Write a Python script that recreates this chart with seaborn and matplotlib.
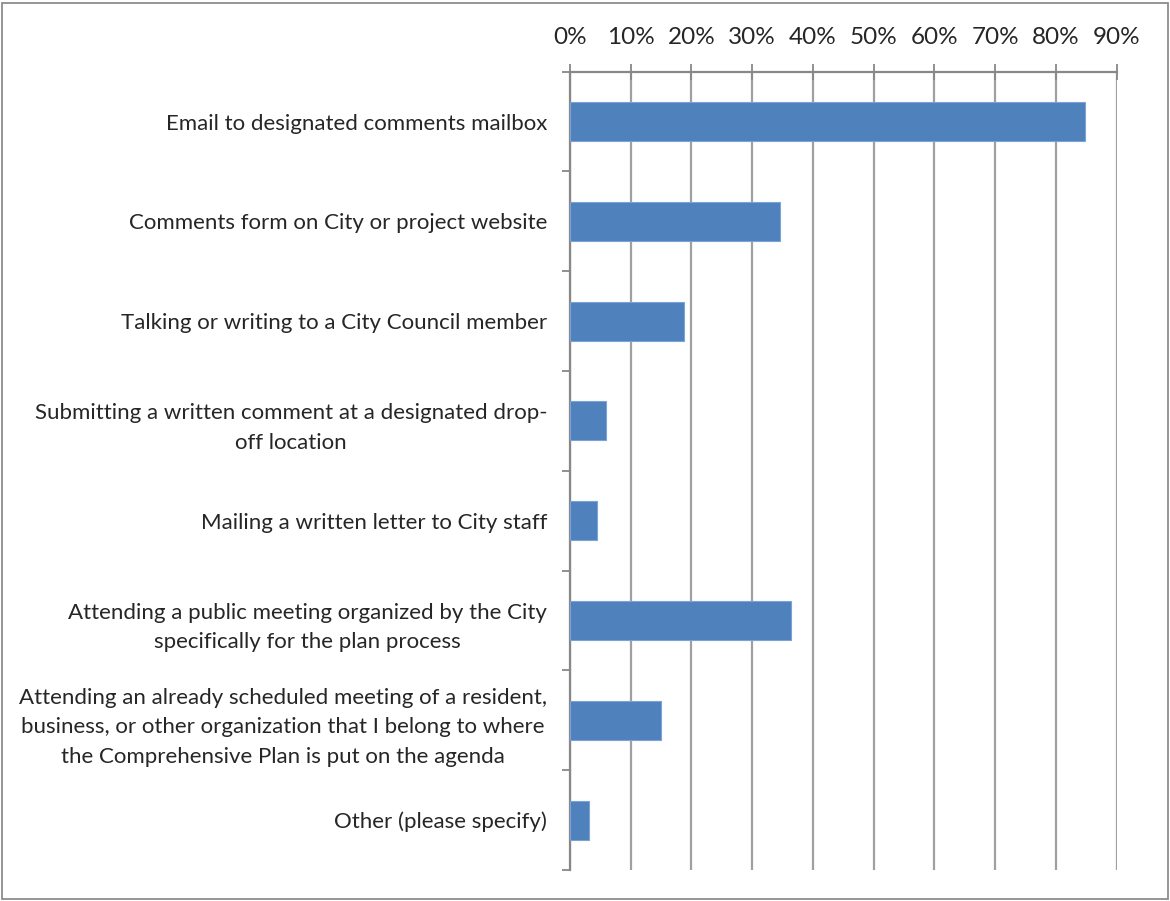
import numpy as np
import pandas as pd
import matplotlib
matplotlib.use("Agg")
import matplotlib.pyplot as plt
import seaborn as sns
from matplotlib.ticker import FixedLocator, PercentFormatter

categories = [
    "Email to designated comments mailbox",
    "Comments form on City or project website",
    "Talking or writing to a City Council member",
    "Submitting a written comment at a designated drop-\noff location",
    "Mailing a written letter to City staff",
    "Attending a public meeting organized by the City\nspecifically for the plan process",
    "Attending an already scheduled meeting of a resident,\nbusiness, or other organization that I belong to where\nthe Comprehensive Plan is put on the agenda",
    "Other (please specify)",
]
percent = [84.8, 34.6, 18.8, 5.9, 4.5, 36.3, 15.0, 3.2]
x_ticks = [0, 10, 20, 30, 40, 50, 60, 70, 80, 90]

df = pd.DataFrame({"method": categories, "pct": percent})

sns.set_style("white")
plt.rcParams["font.family"] = ["Lato", "DejaVu Sans"]

fig = plt.figure(figsize=(11.7, 9.01), dpi=100)
ax = fig.add_axes([570 / 1170, 1 - 870 / 901, (1116.7 - 570) / 1170, (870 - 71.7) / 901])

sns.barplot(data=df, x="pct", y="method", orient="h", color="#4F81BD",
            saturation=1, width=0.39, edgecolor="#7BA3D6", linewidth=0.8, ax=ax, zorder=3)

ax.set_xlim(0, 90)
ax.set_ylim(len(categories) - 0.5, -0.5)
ax.xaxis.tick_top()
ax.set_xticks(x_ticks)
ax.xaxis.set_major_formatter(PercentFormatter(decimals=0))
ax.tick_params(axis="x", direction="inout", length=12, width=1.3, color="#888888",
               labelsize=17.5, pad=11)
ax.grid(axis="x", color="#A0A0A0", linewidth=1.6, zorder=0)
ax.set_axisbelow(True)

# category labels, boundary ticks like the original
ax.tick_params(axis="y", which="major", left=False, length=0, labelsize=16, pad=16.5)
ax.yaxis.set_minor_locator(FixedLocator(np.arange(-0.5, len(categories), 1)))
ax.tick_params(axis="y", which="minor", left=True, direction="out", length=6,
               width=1.3, color="#888888")
for lbl in ax.get_yticklabels():
    lbl.set_multialignment("center")
    lbl.set_linespacing(1.6)

ax.set_xlabel("")
ax.set_ylabel("")
for side in ["right", "bottom"]:
    ax.spines[side].set_visible(False)
ax.spines["left"].set_color("#888888")
ax.spines["left"].set_linewidth(1.6)
ax.spines["top"].set_color("#888888")
ax.spines["top"].set_linewidth(1.6)

# outer chart border
fig.patches.append(plt.Rectangle((2 / 1170, 2 / 901), 1166 / 1170, 896 / 901,
                                 transform=fig.transFigure, fill=False,
                                 edgecolor="#8C8C8C", linewidth=1.3))

fig.savefig("out.png", dpi=100)
